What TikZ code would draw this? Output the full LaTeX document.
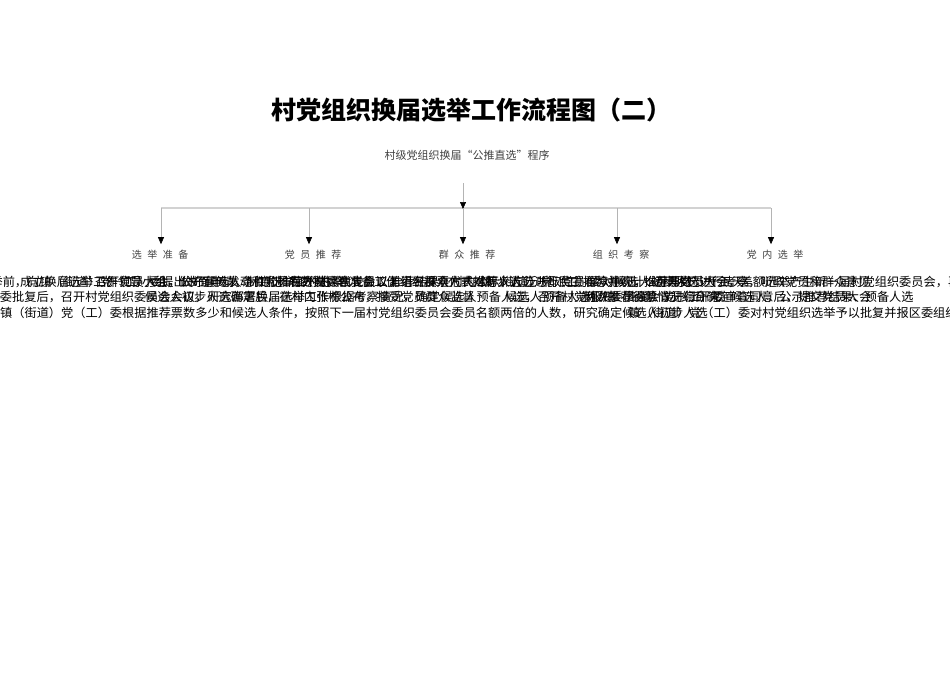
\documentclass[tikz,border=0pt]{standalone}
\usepackage{fontspec}
\newfontfamily\cjk{Noto Sans CJK SC}
\usetikzlibrary{arrows.meta}
\definecolor{linegray}{HTML}{B4B4B4}
\definecolor{bargray}{HTML}{D2D2D2}
\definecolor{labgray}{HTML}{404040}
\newcommand{\gap}{\hspace{5.5pt}}

\begin{document}
\begin{tikzpicture}[x=1pt,y=-1pt,
  headline/.style={font=\cjk\bfseries\fontsize{25}{25}\selectfont},
  subline/.style={font=\cjk\fontsize{11}{11}\selectfont, text=labgray},
  stagelabel/.style={font=\cjk\fontsize{10}{10}\selectfont, text=labgray, inner sep=1pt},
  bodyline/.style={font=\cjk\fontsize{12.2}{12.2}\selectfont, anchor=west, inner sep=0pt},
  drop/.style={draw=linegray, line width=0.6pt, -{Triangle[length=7pt,width=6pt,color=black]}, shorten >=5pt}
]
\useasboundingbox (0,0) rectangle (950,672);

\node[headline] (title) at (471,110) {村党组织换届选举工作流程图（二）};
\node[subline] (sub) at (467,155) {村级党组织换届“公推直选”程序};

\coordinate (top) at (463,183);
\coordinate (hub) at (463,208);
\coordinate (barL) at (161,208);
\coordinate (barR) at (771,208);
\draw[bargray, line width=1.6pt] (barL) -- (barR);
\draw[drop, shorten >=-1pt] (top) -- (hub);

\node[stagelabel] (prep) at (160,255) {选\gap 举\gap 准\gap 备};
\node[stagelabel] (party) at (313,255) {党\gap 员\gap 推\gap 荐};
\node[stagelabel] (mass) at (467,255) {群\gap 众\gap 推\gap 荐};
\node[stagelabel] (check) at (621,255) {组\gap 织\gap 考\gap 察};
\node[stagelabel] (vote) at (775,255) {党\gap 内\gap 选\gap 举};

\coordinate (d1) at (161,208);
\coordinate (d2) at (309,208);
\coordinate (d3) at (463,208);
\coordinate (d4) at (617,208);
\coordinate (d5) at (771,208);
\draw[drop] (d1) -- (d1 |- prep.north);
\draw[drop] (d2) -- (d2 |- party.north);
\draw[drop] (d3) -- (d3 |- mass.north);
\draw[drop] (d4) -- (d4 |- check.north);
\draw[drop] (d5) -- (d5 |- vote.north);

% box texts, run on past their boxes
\begin{scope}
\clip (0,0) rectangle (950,672);
\node[bodyline] (a1) at (-95,282) {村党组织换届选举前，向镇（街道）党（工）委提出书面申请，制定选举工作方案};
\node[bodyline] (b1) at (95,282) {召开党员大会，公布候选人条件和推荐办法，由党员以无记名投票方式推荐人选};
\node[bodyline] (c1) at (290,282) {召开村民代表会议，组织群众代表对初步人选进行民主推荐并统计推荐票数};
\node[bodyline] (e1) at (480,282) {镇（街道）党（工）委对候选人初步人选进行考察，听取党员和群众意见};
\node[bodyline] (f1) at (655,282) {召开党员大会，差额选举产生新一届村党组织委员会，再选举产生书记、副书记};
\node[bodyline] (g1) at (20,282) {成立换届选举工作领导小组，做好宣传发动和党员底数摸排等准备工作};
\node[bodyline] (h1) at (390,282) {推荐结果在村内公示，广泛听取党员群众意见，公示期不少于五天};
\node[bodyline] (a2) at (-110,297) {镇（街道）党（工）委批复后，召开村党组织委员会会议，研究部署换届选举工作};
\node[bodyline] (b2) at (145,297) {候选人初步人选确定后，在村内张榜公布，接受党员群众监督};
\node[bodyline] (c2) at (330,297) {根据考察情况，确定候选人预备人选，召开村党组织委员会会议进行研究};
\node[bodyline] (e2) at (505,297) {候选人预备人选报镇（街道）党（工）委审查同意后，提交党员大会};
\node[bodyline] (f2) at (584,297) {两次推荐得票情况综合确定候选人，公示推荐结果、预备人选};
\node[bodyline] (a3) at (0,313) {镇（街道）党（工）委根据推荐票数多少和候选人条件，按照下一届村党组织委员会委员名额两倍的人数，研究确定候选人初步人选};
\node[bodyline] (e3) at (628,313) {镇（街道）党（工）委对村党组织选举予以批复并报区委组织部备案};
\end{scope}

\end{tikzpicture}
\end{document}
